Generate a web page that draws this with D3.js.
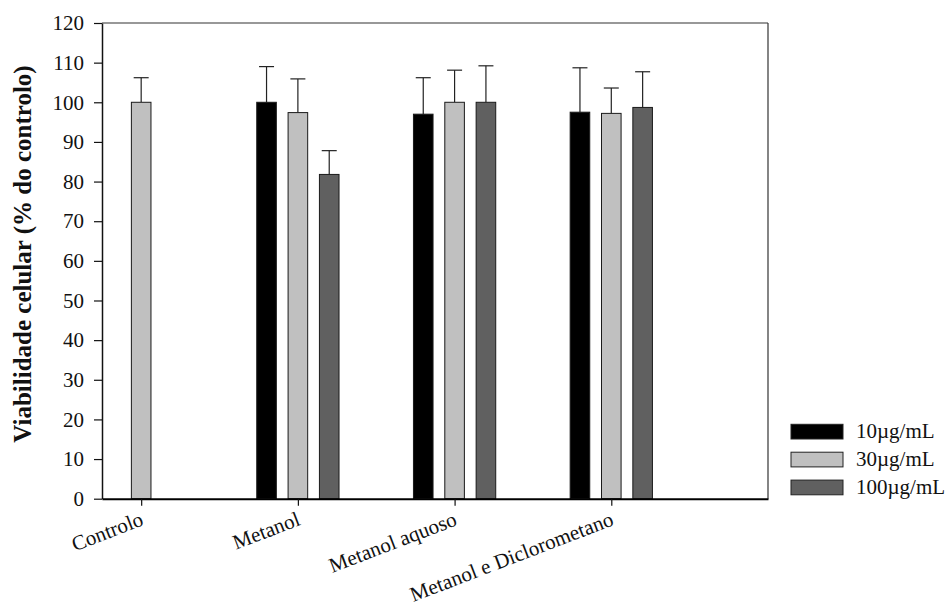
<!DOCTYPE html>
<html>
<head>
<meta charset="utf-8">
<script src="https://cdn.jsdelivr.net/npm/d3@7"></script>
<style>
body { margin: 0; background: #fff; }
text { font-family: "Liberation Serif", "Times New Roman", serif; }
</style>
</head>
<body>
<svg width="946" height="606"></svg>
<script>
// data
let categories = ["Controlo", "Metanol", "Metanol aquoso", "Metanol e Diclorometano"]
let doses = ["10µg/mL", "30µg/mL", "100µg/mL"]
let doseColors = ["#000000", "#c0c0c0", "#606060"]
// mean per dose ; null = no bar
let means = [
    [null, 100, null],
    [100, 97.4, 81.8],
    [97.0, 100, 100],
    [97.5, 97.2, 98.7]
]
// upper error
let errors = [
    [null, 6.2, null],
    [9.0, 8.5, 6.0],
    [9.2, 8.1, 9.2],
    [11.2, 6.4, 9.0]
]
let yTicks = d3.range(0, 121, 10)

let svg = d3.select("svg")

let mLeft = 102, mRight = 768, mTop = 23, mBottom = 498.7

let x = d3.scaleLinear()
    .domain([-0.25, 4])
    .range([mLeft, mRight])

let y = d3.scaleLinear()
    .domain([0, 120])
    .range([mBottom, mTop])

let step = x(1) - x(0)
let barW = step * 0.125
let offset = step * 0.2

// flatten into bars
let bars = []
means.forEach((row, i) => {
    row.forEach((v, j) => {
        if (v == null) return
        bars.push({ cat: i, dose: j, v: v, err: errors[i][j] })
    })
})

// frame (top + right)
svg.append("line")
    .attr("x1", mLeft).attr("x2", mRight)
    .attr("y1", mTop).attr("y2", mTop)
    .style("stroke", "#333").style("stroke-width", 1.2)
svg.append("line")
    .attr("x1", mRight).attr("x2", mRight)
    .attr("y1", mTop).attr("y2", mBottom)
    .style("stroke", "#333").style("stroke-width", 1.2)

// error bars
let eb = svg.selectAll(".err")
    .data(bars)
    .join("g")
    .attr("class", "err")

eb.append("line")
    .attr("x1", d => x(d.cat) + (d.dose - 1) * offset)
    .attr("x2", d => x(d.cat) + (d.dose - 1) * offset)
    .attr("y1", d => y(d.v))
    .attr("y2", d => y(d.v + d.err))
    .style("stroke", "#222").style("stroke-width", 1.2)

eb.append("line")
    .attr("x1", d => x(d.cat) + (d.dose - 1) * offset - 7.5)
    .attr("x2", d => x(d.cat) + (d.dose - 1) * offset + 7.5)
    .attr("y1", d => y(d.v + d.err))
    .attr("y2", d => y(d.v + d.err))
    .style("stroke", "#222").style("stroke-width", 1.2)

svg.selectAll(".bar")
    .data(bars)
    .join("rect")
    .attr("class", "bar")
    .attr("x", d => x(d.cat) + (d.dose - 1) * offset - barW / 2)
    .attr("width", barW)
    .attr("y", d => y(d.v))
    .attr("height", d => y(0) - y(d.v))
    .style("fill", d => doseColors[d.dose])
    .style("stroke", "#1a1a1a")
    .style("stroke-width", 1)

// y axis
let yAxis = svg.append("g")
    .attr("transform", `translate(${mLeft},0)`)
    .call(d3.axisLeft(y).tickValues(yTicks).tickSize(8).tickPadding(10).tickSizeOuter(0))
yAxis.attr("font-family", "Liberation Serif")
yAxis.select(".domain").style("stroke", "#111").style("stroke-width", 1.5)
yAxis.selectAll(".tick line").style("stroke", "#111").style("stroke-width", 1.2)
yAxis.selectAll("text")
    .style("font-size", "21px")
    .style("font-family", "'Liberation Serif', serif")
    .style("fill", "#111")

// x axis
let xAxis = svg.append("g")
    .attr("transform", `translate(0,${mBottom})`)
    .call(d3.axisBottom(x).tickValues(d3.range(categories.length)).tickFormat(i => categories[i]).tickSize(7).tickSizeOuter(0))
xAxis.attr("font-family", "Liberation Serif")
xAxis.select(".domain").style("stroke", "#000").style("stroke-width", 2)
xAxis.selectAll(".tick line").style("stroke", "#111").style("stroke-width", 1.2)
xAxis.selectAll("text")
    .style("font-size", "21px")
    .style("font-family", "'Liberation Serif', serif")
    .style("fill", "#111")
    .attr("text-anchor", "end")
    .attr("dy", 0)
    .attr("y", 0)
    .attr("transform", "translate(3,26) rotate(-21)")

// y title
svg.append("text")
    .attr("transform", "translate(31,254) rotate(-90)")
    .attr("text-anchor", "middle")
    .style("font-size", "25px")
    .style("font-weight", "bold")
    .style("fill", "#111")
    .text("Viabilidade celular (% do controlo)")

// legend
let legend = svg.selectAll(".legend")
    .data(doses)
    .join("g")
    .attr("class", "legend")
    .attr("transform", (d, i) => `translate(791,${424.3 + i * 27.9})`)

legend.append("rect")
    .attr("width", 52)
    .attr("height", 14.7)
    .style("fill", (d, i) => doseColors[i])
    .style("stroke", "#222")
    .style("stroke-width", 1)

legend.append("text")
    .attr("x", 65)
    .attr("y", 14)
    .style("font-size", "21px")
    .style("fill", "#111")
    .text(d => d)
</script>
</body>
</html>
